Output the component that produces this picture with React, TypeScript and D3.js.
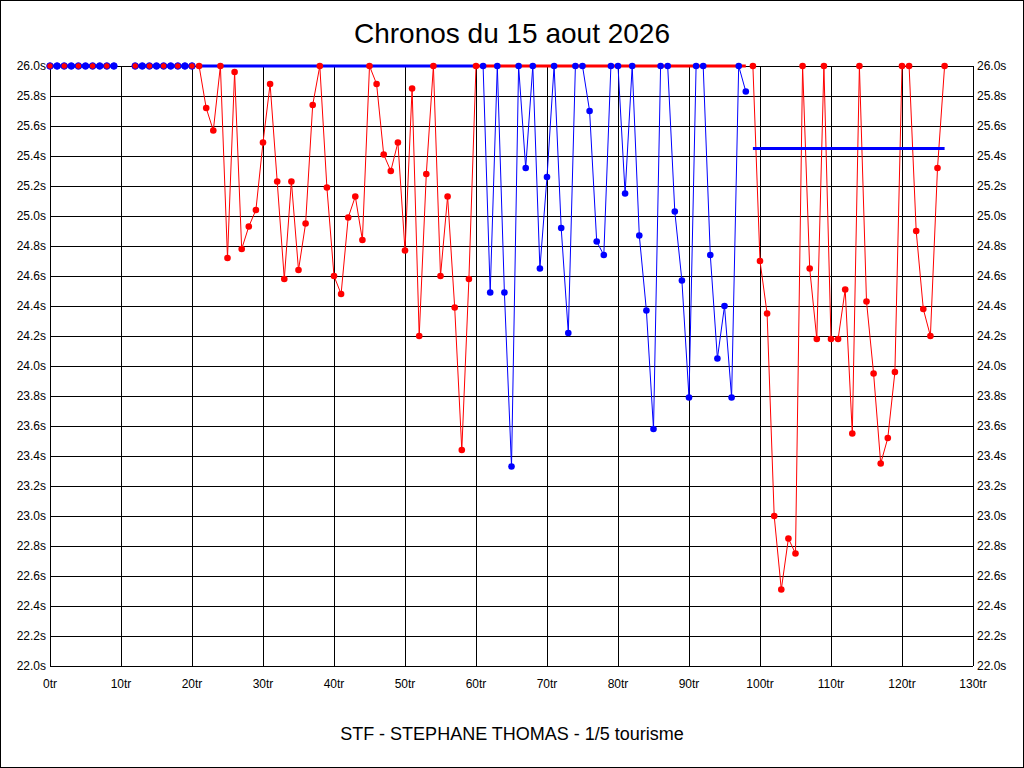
import { useEffect, useRef } from 'react'
import * as d3 from 'd3'

// lap times (seconds), capped at 26.0
const warmupLaps = [0, 1, 2, 3, 4, 5, 6, 7, 8, 9, 12, 13, 14, 15, 16, 17, 18, 19, 20]
const warmupTimes = warmupLaps.map(() => 26.0)

const redStart1 = 21
const redTimes1 = [
  26.0, 25.72, 25.57, 26.0, 24.72, 25.96, 24.78, 24.93, 25.04, 25.49,
  25.88, 25.23, 24.58, 25.23, 24.64, 24.95, 25.74, 26.0, 25.19, 24.6,
  24.48, 24.99, 25.13, 24.84, 26.0, 25.88, 25.41, 25.3, 25.49, 24.77,
  25.85, 24.2, 25.28, 26.0, 24.6, 25.13, 24.39, 23.44, 24.58, 26.0,
]

const blueStart = 61
const blueTimes = [
  26.0, 24.49, 26.0, 24.49, 23.33, 26.0, 25.32, 26.0, 24.65, 25.26,
  26.0, 24.92, 24.22, 26.0, 26.0, 25.7, 24.83, 24.74, 26.0, 26.0,
  25.15, 26.0, 24.87, 24.37, 23.58, 26.0, 26.0, 25.03, 24.57, 23.79,
  26.0, 26.0, 24.74, 24.05, 24.4, 23.79, 26.0, 25.83,
]

const redStart2 = 99
const redTimes2 = [
  26.0, 24.7, 24.35, 23.0, 22.51, 22.85, 22.75, 26.0, 24.65, 24.18,
  26.0, 24.18, 24.18, 24.51, 23.55, 26.0, 24.43, 23.95, 23.35, 23.52,
  23.96, 26.0, 26.0, 24.9, 24.38, 24.2, 25.32, 26.0,
]

// reference lines: [fromLap, toLap, value, colour]
const refLines: [number, number, number, string][] = [
  [21, 60, 26.0, '#0000ff'],
  [60, 98, 26.0, '#ff0000'],
  [99, 126, 25.45, '#0000ff'],
]

const xTicks = d3.range(0, 131, 10)
const yTicks = d3.range(0, 21).map((i) => 22 + i * 0.2)

const title = 'Chronos du 15 aout 2026'
const subtitle = 'STF - STEPHANE THOMAS - 1/5 tourisme'

export default function App() {
  const svgRef = useRef<SVGSVGElement>(null)

  useEffect(() => {
    if (!svgRef.current) return
    const svg = d3.select(svgRef.current)
    svg.selectAll('*').remove()

    const width = 1024
    const height = 768
    const margin = { top: 66, right: 51, bottom: 102, left: 50 }
    const x = d3.scaleLinear().domain([0, 130]).range([margin.left, width - margin.right])
    const y = d3.scaleLinear().domain([22, 26]).range([height - margin.bottom, margin.top])
    const font = 'Arial, "Liberation Sans", sans-serif'

    svg.append('rect').attr('x', 0.5).attr('y', 0.5).attr('width', width - 1).attr('height', height - 1)
      .attr('fill', '#fff').attr('stroke', '#000')

    // grid
    const grid = svg.append('g').attr('stroke', '#000').attr('shape-rendering', 'crispEdges')
    yTicks.forEach((t) => {
      grid.append('line').attr('x1', x(0)).attr('x2', x(130)).attr('y1', y(t)).attr('y2', y(t))
    })
    xTicks.forEach((t) => {
      grid.append('line').attr('x1', x(t)).attr('x2', x(t)).attr('y1', y(22)).attr('y2', y(26))
    })

    // tick labels
    const lab = svg.append('g').style('font-family', font).style('font-size', '12px').attr('fill', '#000')
    yTicks.forEach((t) => {
      lab.append('text').attr('x', x(0) - 4).attr('y', y(t) + 4).attr('text-anchor', 'end').text(`${t.toFixed(1)}s`)
      lab.append('text').attr('x', x(130) + 4).attr('y', y(t) + 4).attr('text-anchor', 'start').text(`${t.toFixed(1)}s`)
    })
    xTicks.forEach((t) => {
      lab.append('text').attr('x', x(t)).attr('y', y(22) + 22).attr('text-anchor', 'middle').text(`${t}tr`)
    })

    svg.append('text').attr('x', width / 2).attr('y', 43).attr('text-anchor', 'middle')
      .style('font-family', font).style('font-size', '28px').text(title)
    svg.append('text').attr('x', width / 2).attr('y', 740).attr('text-anchor', 'middle')
      .style('font-family', font).style('font-size', '18px').text(subtitle)

    const line = d3.line<[number, number]>().x((d) => x(d[0])).y((d) => y(d[1]))

    const series = [
      { pts: redTimes1.map((v, i) => [redStart1 + i, v] as [number, number]), color: '#ff0000' },
      { pts: blueTimes.map((v, i) => [blueStart + i, v] as [number, number]), color: '#0000ff' },
      { pts: redTimes2.map((v, i) => [redStart2 + i, v] as [number, number]), color: '#ff0000' },
    ]

    series.forEach((s) => {
      svg.append('path').attr('d', line(s.pts)).attr('fill', 'none').attr('stroke', s.color).attr('stroke-width', 1)
    })

    // warm-up laps joined in blocks
    const blocks = [warmupLaps.filter((l) => l < 10), warmupLaps.filter((l) => l > 10)]
    blocks.forEach((b) => {
      svg.append('path').attr('d', line(b.map((l) => [l, 26.0] as [number, number])))
        .attr('fill', 'none').attr('stroke', '#0000ff').attr('stroke-width', 3)
    })

    refLines.forEach(([a, b, v, c]) => {
      svg.append('line').attr('x1', x(a)).attr('x2', x(b)).attr('y1', y(v)).attr('y2', y(v))
        .attr('stroke', c).attr('stroke-width', 3)
    })

    series.forEach((s) => {
      svg.append('g').selectAll('circle').data(s.pts).join('circle')
        .attr('cx', (d) => x(d[0])).attr('cy', (d) => y(d[1])).attr('r', 3.3).attr('fill', s.color)
    })
    svg.append('g').selectAll('circle').data(warmupLaps).join('circle')
      .attr('cx', (d) => x(d)).attr('cy', (d, i) => y(warmupTimes[i])).attr('r', 3.3)
      .attr('fill', (d) => (d % 2 === 0 ? '#ff0000' : '#0000ff'))
      .attr('stroke', '#0000ff').attr('stroke-width', 1)
  }, [])

  return (
    <div style={{ position: 'absolute', left: 0, top: 0 }}>
      <svg ref={svgRef} width={1024} height={768} />
    </div>
  )
}
